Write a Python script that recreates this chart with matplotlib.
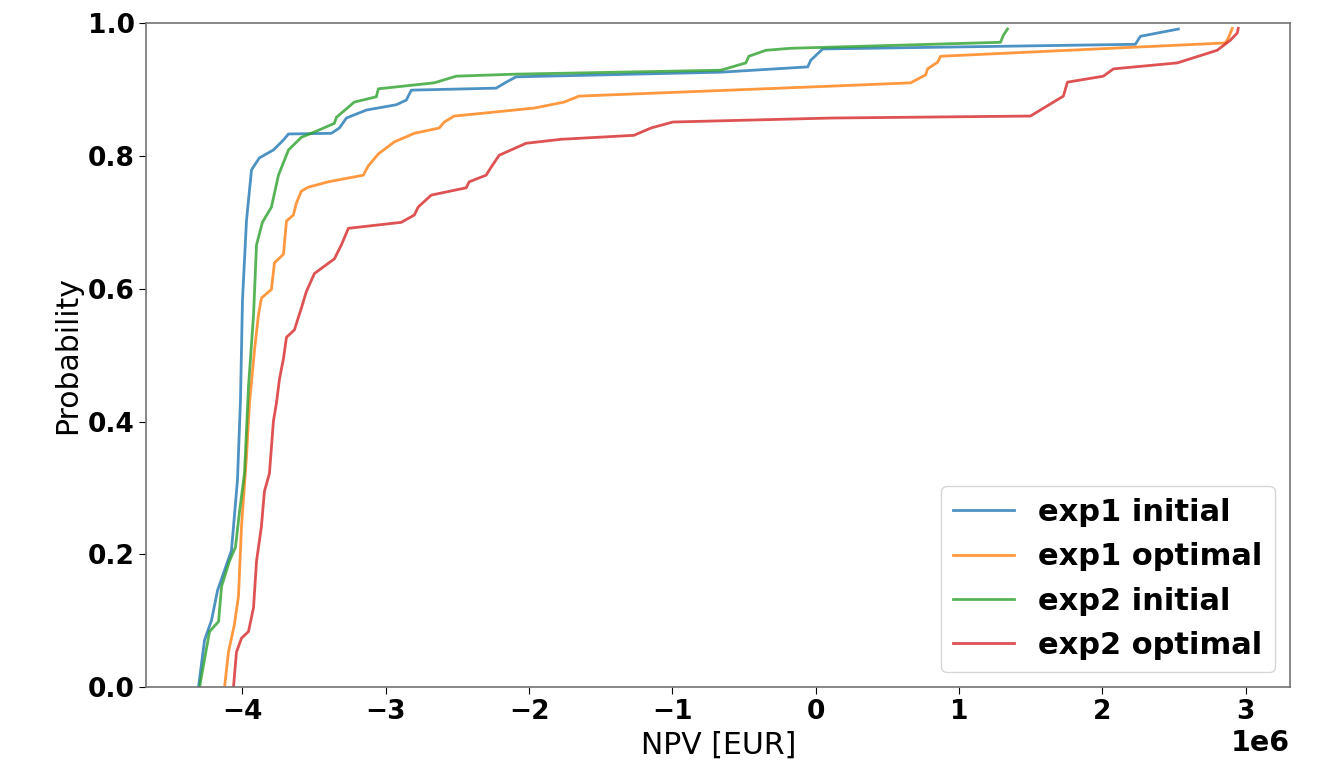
import matplotlib.pyplot as plt
import numpy as np

# NPV in million EUR and cumulative probability, read at the corners of each curve
exp1_initial_npv = [-4.307, -4.265, -4.216, -4.174, -4.077, -4.035, -4.014, -4.000, -3.972, -3.937,
                    -3.882, -3.784, -3.714, -3.679, -3.380, -3.324, -3.275, -3.136, -2.927, -2.857,
                    -2.822, -2.230, -2.160, -2.091, -0.662, -0.056, -0.035, 0.049, 2.230, 2.265, 2.530]
exp1_initial_prob = [0.0, 0.071, 0.101, 0.146, 0.206, 0.312, 0.432, 0.583, 0.703, 0.779,
                     0.797, 0.809, 0.824, 0.833, 0.834, 0.842, 0.857, 0.869, 0.877, 0.884,
                     0.899, 0.902, 0.911, 0.919, 0.926, 0.934, 0.944, 0.961, 0.968, 0.980, 0.991]

exp1_optimal_npv = [-4.125, -4.098, -4.056, -4.028, -4.007, -3.972, -3.951, -3.916, -3.889, -3.868,
                    -3.798, -3.777, -3.714, -3.693, -3.645, -3.624, -3.589, -3.540, -3.401, -3.157,
                    -3.122, -3.052, -2.941, -2.801, -2.627, -2.592, -2.523, -2.334, -1.965, -1.756,
                    -1.652, 0.105, 0.662, 0.767, 0.780, 0.850, 0.871, 2.857, 2.878, 2.906]
exp1_optimal_prob = [0.0, 0.053, 0.095, 0.137, 0.242, 0.348, 0.428, 0.508, 0.560, 0.586,
                     0.599, 0.639, 0.652, 0.702, 0.711, 0.729, 0.747, 0.753, 0.761, 0.771,
                     0.785, 0.803, 0.821, 0.834, 0.842, 0.851, 0.860, 0.864, 0.872, 0.881,
                     0.890, 0.905, 0.910, 0.922, 0.931, 0.941, 0.950, 0.970, 0.977, 0.992]

exp2_initial_npv = [-4.300, -4.230, -4.167, -4.146, -4.091, -4.049, -4.021, -3.986, -3.958, -3.923,
                    -3.902, -3.861, -3.798, -3.749, -3.679, -3.589, -3.498, -3.359, -3.345, -3.220,
                    -3.066, -3.052, -2.662, -2.509, -2.105, -0.662, -0.488, -0.467, -0.348, -0.174,
                    1.289, 1.310, 1.338]
exp2_initial_prob = [0.0, 0.084, 0.099, 0.152, 0.190, 0.211, 0.264, 0.322, 0.453, 0.560,
                     0.666, 0.700, 0.723, 0.771, 0.809, 0.828, 0.836, 0.849, 0.858, 0.881,
                     0.889, 0.901, 0.910, 0.920, 0.923, 0.929, 0.940, 0.950, 0.959, 0.962,
                     0.971, 0.982, 0.991]

exp2_optimal_npv = [-4.063, -4.042, -4.007, -3.958, -3.923, -3.902, -3.868, -3.847, -3.812, -3.784,
                    -3.763, -3.742, -3.714, -3.693, -3.638, -3.589, -3.554, -3.498, -3.359, -3.310,
                    -3.261, -2.892, -2.801, -2.774, -2.683, -2.439, -2.418, -2.300, -2.265, -2.209,
                    -2.021, -1.777, -1.268, -1.150, -0.997, 0.105, 1.498, 1.728, 1.756, 2.007,
                    2.077, 2.523, 2.801, 2.892, 2.941, 2.948]
exp2_optimal_prob = [0.0, 0.053, 0.074, 0.084, 0.120, 0.190, 0.242, 0.295, 0.322, 0.401,
                     0.428, 0.464, 0.495, 0.527, 0.538, 0.571, 0.596, 0.623, 0.645, 0.666,
                     0.691, 0.700, 0.711, 0.723, 0.741, 0.752, 0.761, 0.771, 0.783, 0.801,
                     0.819, 0.825, 0.831, 0.842, 0.851, 0.857, 0.860, 0.890, 0.911, 0.920,
                     0.931, 0.940, 0.959, 0.974, 0.985, 0.992]

series = [
    ("exp1 initial", exp1_initial_npv, exp1_initial_prob, "tab:blue"),
    ("exp1 optimal", exp1_optimal_npv, exp1_optimal_prob, "tab:orange"),
    ("exp2 initial", exp2_initial_npv, exp2_initial_prob, "tab:green"),
    ("exp2 optimal", exp2_optimal_npv, exp2_optimal_prob, "tab:red"),
]

plt.rcParams["font.weight"] = "bold"

fig, ax = plt.subplots(figsize=(13.44, 7.68), dpi=100)
fig.subplots_adjust(left=0.109, right=0.96, bottom=0.105, top=0.97)

for label, npv, prob, color in series:
    ax.plot(np.array(npv) * 1e6, prob, color=color, lw=2, alpha=0.8, label=label)

ax.set_ylim(0, 1)
ax.set_xlabel("NPV [EUR]", fontsize=21.5, fontweight="normal")
ax.set_ylabel("Probability", fontsize=21.5, fontweight="normal")
ax.tick_params(labelsize=19, length=5)
ax.xaxis.get_offset_text().set_fontsize(20.5)
for spine in ax.spines.values():
    spine.set_edgecolor("0.45")
    spine.set_linewidth(1.2)

ax.legend(loc="lower right", prop={"weight": "bold", "size": 22})

fig.savefig("out.png")
